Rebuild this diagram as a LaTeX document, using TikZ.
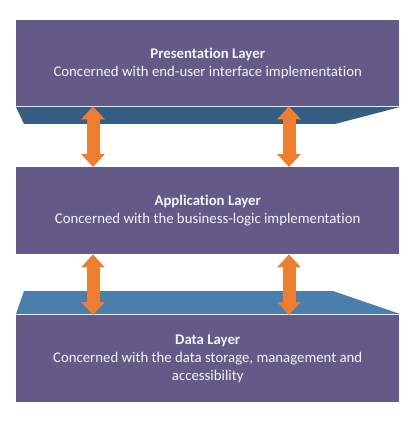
\documentclass[tikz,border=0pt]{standalone}
\usepackage{fontspec}
\setmainfont{Carlito}[Ligatures=NoCommon]
\usetikzlibrary{arrows.meta}
\definecolor{layerc}{RGB}{99,90,135}
\definecolor{bandtop}{RGB}{54,94,130}
\definecolor{bandbot}{RGB}{74,126,173}
\definecolor{arrowc}{RGB}{237,125,49}
\definecolor{textc}{RGB}{245,245,245}
\begin{document}
\begin{tikzpicture}[x=1pt,y=-1pt,
  layerbox/.style={fill=layerc, draw=none, minimum width=383pt, inner sep=0pt,
    anchor=north west, text=textc, align=center,
    font=\fontsize{14.8}{18}\selectfont},
  link/.style={draw=arrowc, line width=13pt,
    {Triangle[width=23pt,length=13pt]}-{Triangle[width=23pt,length=13pt]}}]
\useasboundingbox[fill=white] (0,0) rectangle (418,422);
\node[layerbox, minimum height=86pt] (pres) at (16,20)
  {\textbf{Presentation Layer}\\Concerned with end-user interface implementation};
\node[layerbox, minimum height=87pt] (app) at (16,167)
  {\textbf{Application Layer}\\Concerned with the business-logic implementation};
\node[layerbox, minimum height=87pt] (data) at (16,315)
  {\textbf{Data Layer}\\Concerned with the data storage, management and\\accessibility};
\fill[bandtop] (16,107) -- (400,107) -- (335,124) -- (24,124) -- cycle;
\fill[bandbot] (24,291) -- (333,291) -- (400,314) -- (16,314) -- cycle;
\coordinate (xl) at (93,0);
\coordinate (xr) at (289,0);
\draw[link] (pres.south -| xl) -- (app.north -| xl);
\draw[link] (pres.south -| xr) -- (app.north -| xr);
\draw[link] (app.south -| xl) -- (data.north -| xl);
\draw[link] (app.south -| xr) -- (data.north -| xr);
\end{tikzpicture}
\end{document}
